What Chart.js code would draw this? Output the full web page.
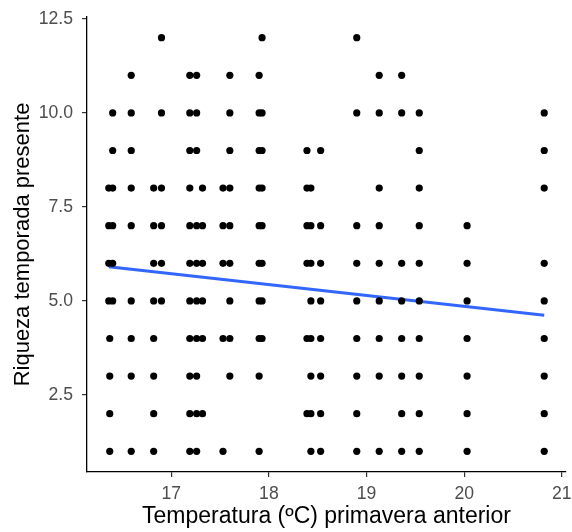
<!DOCTYPE html>
<html>
<head>
<meta charset="utf-8">
<script src="https://cdn.jsdelivr.net/npm/chart.js@4.4.1/dist/chart.umd.min.js"></script>
<style>
  html, body { margin: 0; padding: 0; background: #ffffff; }
  #wrap { width: 572px; height: 532px; position: relative; }
</style>
</head>
<body>
<div id="wrap"><canvas id="grafico"></canvas></div>
<script>
// Temperature (x) dei punti, una riga per ogni valore di ricchezza (y)
const riqueza = [12, 11, 10, 9, 8, 7, 6, 5, 4, 3, 2, 1];
const temp12 = [16.90, 17.93, 18.90];
const temp11 = [16.59, 17.19, 17.26, 17.60, 17.90, 19.13, 19.36];
const temp10 = [16.40, 16.59, 16.90, 17.19, 17.26, 17.60, 17.90, 17.93, 18.90, 19.13, 19.36, 19.54, 20.82];
const temp9  = [16.40, 16.59, 17.19, 17.26, 17.60, 17.90, 17.93, 18.39, 18.53, 19.54, 20.82];
const temp8  = [16.36, 16.40, 16.59, 16.82, 16.90, 17.19, 17.32, 17.53, 17.60, 17.90, 17.93, 18.39, 18.43, 19.13, 19.54, 20.82];
const temp7  = [16.36, 16.40, 16.59, 16.82, 16.90, 17.19, 17.26, 17.32, 17.53, 17.60, 17.90, 17.93, 18.39, 18.43, 18.53, 18.90, 19.13, 19.54, 20.03];
const temp6  = [16.36, 16.40, 16.82, 16.90, 17.19, 17.26, 17.32, 17.53, 17.60, 17.90, 17.93, 18.39, 18.43, 18.53, 18.90, 19.13, 19.36, 19.54, 20.03, 20.82];
const temp5  = [16.36, 16.40, 16.59, 16.82, 16.90, 17.19, 17.26, 17.32, 17.60, 17.90, 17.93, 18.43, 18.53, 18.90, 19.13, 19.36, 19.54, 20.03, 20.82];
const temp4  = [16.37, 16.59, 16.82, 17.19, 17.26, 17.32, 17.53, 17.60, 17.90, 17.93, 18.39, 18.43, 18.53, 18.90, 19.13, 19.36, 19.54, 20.03, 20.82];
const temp3  = [16.37, 16.59, 16.82, 17.19, 17.26, 17.60, 17.90, 18.43, 18.53, 18.90, 19.13, 19.36, 19.54, 20.03, 20.82];
const temp2  = [16.37, 16.82, 17.19, 17.26, 17.32, 18.39, 18.43, 18.53, 18.90, 19.36, 19.54, 20.03, 20.82];
const temp1  = [16.37, 16.59, 16.82, 17.19, 17.26, 17.53, 17.90, 18.43, 18.53, 18.90, 19.13, 19.36, 19.54, 20.03, 20.82];
const tempPorFila = [temp12, temp11, temp10, temp9, temp8, temp7, temp6, temp5, temp4, temp3, temp2, temp1];

// Retta di regressione (geom_smooth lm)
const lineaX = [16.36, 20.82];
const lineaY = [5.91, 4.62];

// Etichette degli assi
const ticksX = [17, 18, 19, 20, 21];
const ticksY = [2.5, 5.0, 7.5, 10.0, 12.5];

const punti = [];
tempPorFila.forEach((fila, i) => {
    fila.forEach(t => punti.push({ x: t, y: riqueza[i] }));
});
const linea = lineaX.map((x, i) => ({ x: x, y: lineaY[i] }));

const font = 'Liberation Sans, Arial, sans-serif';

new Chart(document.getElementById('grafico').getContext('2d'), {
    type: 'scatter',
    data: {
        datasets: [
            {
                label: 'puntos',
                data: punti,
                backgroundColor: '#000000',
                borderWidth: 0,
                pointRadius: 3.6,
                pointHoverRadius: 3.6
            },
            {
                type: 'line',
                label: 'lm',
                data: linea,
                borderColor: '#3366FF',
                borderWidth: 3,
                pointRadius: 0,
                fill: false,
                tension: 0
            }
        ]
    },
    options: {
        responsive: true,
        maintainAspectRatio: false,
        animation: false,
        layout: { padding: { top: 17, right: 6, left: 0, bottom: 0 } },
        plugins: {
            legend: { display: false },
            tooltip: { enabled: false }
        },
        scales: {
            x: {
                type: 'linear',
                min: 16.137,
                max: 21.043,
                afterBuildTicks: s => { s.ticks = ticksX.map(v => ({ value: v })); },
                afterFit: s => { s.height = 60; s.paddingLeft = 0; s.paddingRight = 0; },
                border: { display: true, color: '#000000', width: 1.3 },
                grid: { drawOnChartArea: false, drawTicks: true, tickLength: 5, color: '#333333', lineWidth: 1.2 },
                ticks: {
                    padding: 7,
                    color: '#4D4D4D',
                    font: { family: font, size: 17.6 },
                    callback: v => String(v)
                },
                title: {
                    display: true,
                    text: 'Temperatura (ºC) primavera anterior',
                    color: '#000000',
                    font: { family: font, size: 23 },
                    padding: { top: 0, bottom: 2 }
                }
            },
            y: {
                type: 'linear',
                min: 0.45,
                max: 12.55,
                afterBuildTicks: s => { s.ticks = ticksY.map(v => ({ value: v })); },
                afterFit: s => { s.width = 87; s.paddingTop = 0; s.paddingBottom = 0; },
                border: { display: true, color: '#000000', width: 1.3 },
                grid: { drawOnChartArea: false, drawTicks: true, tickLength: 5, color: '#333333', lineWidth: 1.2 },
                ticks: {
                    padding: 9,
                    color: '#4D4D4D',
                    font: { family: font, size: 17.6 },
                    callback: v => v.toFixed(1)
                },
                title: {
                    display: true,
                    text: 'Riqueza temporada presente',
                    color: '#000000',
                    font: { family: font, size: 22 },
                    padding: { top: 10, bottom: 0 }
                }
            }
        }
    }
});
</script>
</body>
</html>
